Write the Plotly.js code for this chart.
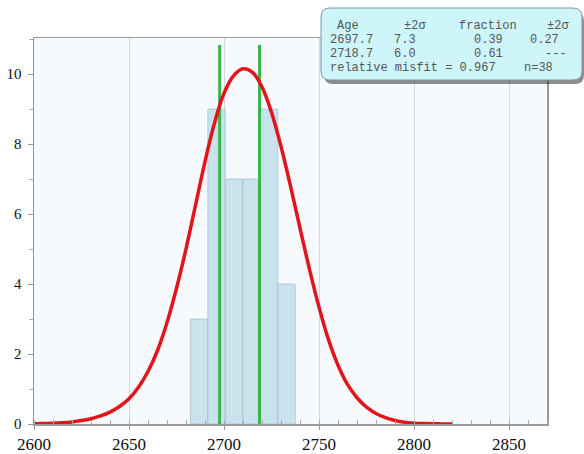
<!DOCTYPE html>
<html>
<head>
<meta charset="utf-8">
<script src="https://cdn.plot.ly/plotly-3.0.1.min.js"></script>
<style>
  html, body { margin: 0; padding: 0; background: #ffffff; }
  #chart { width: 584px; height: 454px; }
</style>
</head>
<body>
<div id="chart"></div>
<script>
// ---- data ----
var binEdges = [2682.3, 2691.5, 2700.7, 2709.9, 2719.1, 2728.3, 2737.5];
var binCounts = [3, 9, 7, 7, 9, 4];

var peakAges = [2697.7, 2718.7];
var peakLineTop = 10.83;

var curveX = [2600, 2605, 2610, 2615, 2620, 2625, 2630, 2635, 2640, 2645,
              2650, 2655, 2660, 2665, 2670, 2675, 2680, 2685, 2690, 2695,
              2700, 2705, 2710, 2715, 2720, 2725, 2730, 2735, 2740, 2745,
              2750, 2755, 2760, 2765, 2770, 2775, 2780, 2785, 2790, 2795,
              2800, 2805, 2810, 2815, 2820];
var curveY = [0.010, 0.015, 0.020, 0.035, 0.060, 0.10, 0.15, 0.23, 0.34, 0.50,
              0.72, 1.05, 1.50, 2.10, 2.90, 3.88, 5.00, 6.25, 7.50, 8.60,
              9.45, 9.95, 10.15, 10.05, 9.63, 8.91, 7.93, 6.80, 5.60, 4.42,
              3.34, 2.41, 1.68, 1.13, 0.75, 0.48, 0.30, 0.18, 0.10, 0.05,
              0.025, 0.012, 0.006, 0.003, 0.000];

var xTickVals = [2600, 2650, 2700, 2750, 2800, 2850];
var yTickVals = [0, 2, 4, 6, 8, 10];

var tableHeader = ["Age", "\u00b12\u03c3", "fraction", "\u00b12\u03c3"];
var tableRow1 = ["2697.7", "7.3", "0.39", "0.27"];
var tableRow2 = ["2718.7", "6.0", "0.61", "---"];
var misfitText = "relative misfit = 0.967";
var nText = "n=38";

// ---- layout geometry (pixels) ----
var W = 584, H = 454;
var M = {l: 34, r: 37, t: 38, b: 30};
var plotW = W - M.l - M.r, plotH = H - M.t - M.b;
function px(p) { return (p - M.l) / plotW; }
function py(p) { return (H - M.b - p) / plotH; }

// bars
var barX = [], barW = [];
for (var i = 0; i < binCounts.length; i++) {
  barX.push((binEdges[i] + binEdges[i + 1]) / 2);
  barW.push(binEdges[i + 1] - binEdges[i]);
}

var traces = [];
traces.push({
  type: 'bar', x: barX, y: binCounts, width: barW,
  marker: {color: 'rgba(192,222,233,0.85)', line: {color: 'rgba(150,185,205,0.6)', width: 1}},
  hoverinfo: 'skip'
});
peakAges.forEach(function (a) {
  traces.push({
    type: 'scatter', mode: 'lines', x: [a, a], y: [0, peakLineTop],
    line: {color: '#3ab54a', width: 3}, hoverinfo: 'skip'
  });
});
traces.push({
  type: 'scatter', mode: 'lines', x: curveX, y: curveY,
  line: {color: '#e3141b', width: 3.5, shape: 'spline', smoothing: 1},
  hoverinfo: 'skip'
});

// info box
function roundRect(x0, y0, x1, y1, r) {
  var rx = r / plotW, ry = r / plotH;
  var X0 = px(x0), X1 = px(x1), T = py(y0), B = py(y1);
  return 'M' + (X0 + rx) + ',' + T +
    ' L' + (X1 - rx) + ',' + T +
    ' Q' + X1 + ',' + T + ' ' + X1 + ',' + (T - ry) +
    ' L' + X1 + ',' + (B + ry) +
    ' Q' + X1 + ',' + B + ' ' + (X1 - rx) + ',' + B +
    ' L' + (X0 + rx) + ',' + B +
    ' Q' + X0 + ',' + B + ' ' + X0 + ',' + (B + ry) +
    ' L' + X0 + ',' + (T - ry) +
    ' Q' + X0 + ',' + T + ' ' + (X0 + rx) + ',' + T + ' Z';
}
var shapes = [
  {type: 'path', xref: 'paper', yref: 'paper', layer: 'above',
   path: roundRect(324, 12, 584, 84, 9),
   fillcolor: 'rgba(50,50,50,0.55)', line: {width: 0}},
  {type: 'path', xref: 'paper', yref: 'paper', layer: 'above',
   path: roundRect(321, 8, 582, 80, 9),
   fillcolor: '#cdf5fa', line: {color: '#7a9aa0', width: 1}}
];

var monoFont = {family: 'Liberation Mono, DejaVu Sans Mono, monospace', size: 12, color: '#555'};
var annotations = [];
function cell(text, xp, yp) {
  annotations.push({xref: 'paper', yref: 'paper', x: px(xp), y: py(yp),
    xanchor: 'left', yanchor: 'middle', text: text, showarrow: false, font: monoFont});
}
var colX = [[335, 402, 457, 545], [328, 392, 472, 528], [328, 392, 472, 543]];
var rowY = [25.5, 40, 54, 68.5];
[tableHeader, tableRow1, tableRow2].forEach(function (row, r) {
  row.forEach(function (t, c) { cell(t, colX[r][c], rowY[r]); });
});
cell(misfitText, 328, rowY[3]);
cell(nText, 522, rowY[3]);

var layout = {
  width: W, height: H,
  margin: M,
  paper_bgcolor: '#ffffff',
  plot_bgcolor: '#f6fafc',
  showlegend: false,
  hovermode: false,
  bargap: 0,
  xaxis: {
    range: [2600, 2870], tickvals: xTickVals, ticktext: xTickVals.map(String),
    showgrid: true, gridcolor: '#d6d6d6', gridwidth: 1, zeroline: false,
    showline: true, linecolor: '#999', linewidth: 1.5, mirror: true,
    ticks: 'outside', ticklen: 4, tickcolor: '#999', ticklabelstandoff: 0,
    tickfont: {family: 'Liberation Serif, Times New Roman, serif', size: 17, color: '#111'},
    minor: {dtick: 10, tick0: 2600, ticks: 'inside', ticklen: 4, tickcolor: '#aaa', showgrid: false},
    fixedrange: true
  },
  yaxis: {
    range: [0, 11.03], tickvals: yTickVals, ticktext: yTickVals.map(String),
    showgrid: false, zeroline: false,
    showline: true, linecolor: '#999', linewidth: 1.5, mirror: true,
    ticks: 'outside', ticklen: 5, tickcolor: '#999', ticklabelstandoff: 3,
    tickfont: {family: 'Liberation Serif, Times New Roman, serif', size: 15, color: '#111'},
    minor: {dtick: 1, tick0: 0, ticks: 'outside', ticklen: 4, tickcolor: '#aaa', showgrid: false},
    fixedrange: true
  },
  shapes: shapes,
  annotations: annotations
};

Plotly.newPlot('chart', traces, layout, {displayModeBar: false, staticPlot: true});
</script>
</body>
</html>
